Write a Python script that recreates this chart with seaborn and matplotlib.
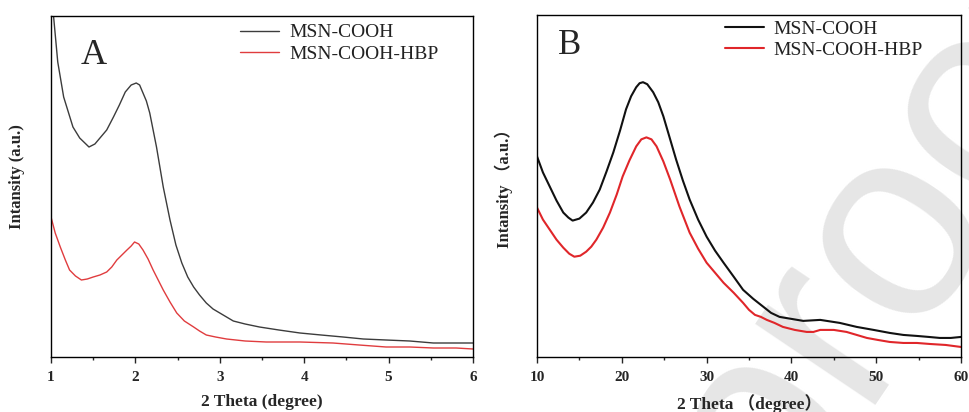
import numpy as np
import pandas as pd
import matplotlib
matplotlib.use("Agg")
import matplotlib.pyplot as plt
import seaborn as sns
from matplotlib.ticker import MultipleLocator

sns.set_style("white")
plt.rcParams['font.family'] = ['Liberation Serif', 'Noto Sans CJK SC', 'DejaVu Sans']

# ---- Panel A data (small angle) ----
a_x_black = [1.0, 1.03, 1.08, 1.15, 1.26, 1.34, 1.45, 1.52, 1.58, 1.66, 1.74, 1.81, 1.88, 1.95,
             2.01, 2.05, 2.09, 2.13, 2.17, 2.25, 2.33, 2.41, 2.48, 2.55, 2.62, 2.69, 2.76,
             2.84, 2.92, 3.0, 3.16, 3.3, 3.47, 3.7, 3.95, 4.2, 4.46, 4.7, 4.97, 5.25, 5.53, 5.8, 6.0]
a_y_black = [372, 341, 295, 260, 230, 219, 210, 213, 219, 227, 240, 252, 265, 272,
             274, 272, 264, 256, 244, 210, 170, 137, 112, 94, 80, 70, 62,
             54, 48, 44, 36, 33, 30, 27, 24, 22, 20, 18, 17, 16, 14, 14, 14]
a_x_red = [1.0, 1.05, 1.11, 1.17, 1.22, 1.29, 1.36, 1.43, 1.5, 1.58, 1.66, 1.72, 1.78, 1.84,
           1.9, 1.95, 1.99, 2.04, 2.09, 2.15, 2.21, 2.27, 2.33, 2.41, 2.49, 2.58, 2.69,
           2.76, 2.84, 2.95, 3.08, 3.3, 3.55, 3.95, 4.34, 4.65, 4.97, 5.25, 5.53, 5.8, 6.0]
a_y_red = [140, 124, 110, 97, 87, 81, 77, 78, 80, 82, 85, 90, 97, 102,
           107, 111, 115, 113, 107, 98, 87, 77, 67, 55, 44, 36, 30,
           26, 22, 20, 18, 16, 15, 15, 14, 12, 10, 10, 9, 9, 8]

# ---- Panel B data (wide angle) ----
b_x_black = [10, 10.7, 11.5, 12.3, 13.1, 13.7, 14.2, 15.0, 15.8, 16.6, 17.4, 18.2, 19, 19.8,
             20.5, 21.1, 21.7, 22.1, 22.5, 23.0, 23.7, 24.3, 24.9, 25.6, 26.4, 27.2, 28,
             29, 30, 31, 32, 33.2, 34.3, 35.5, 36.7, 37.6, 38.6, 40, 41.4, 43.4, 45.7,
             47.7, 49.7, 51.6, 53.2, 54.8, 56.2, 57.5, 58.8, 60]
b_y_black = [200, 184, 170, 156, 144, 139, 136, 138, 144, 154, 167, 185, 204, 226,
             247, 260, 269, 273, 274, 272, 264, 254, 240, 220, 197, 176, 157,
             137, 120, 106, 94, 80, 67, 58, 50, 44, 40, 38, 36, 37, 34,
             30, 27, 24, 22, 21, 20, 19, 19, 20]
b_x_red = [10, 10.7, 11.5, 12.3, 13.1, 13.8, 14.4, 15.1, 15.8, 16.4, 17, 17.8, 18.6, 19.4,
           20.1, 20.9, 21.7, 22.3, 22.9, 23.5, 24.1, 24.9, 25.7, 26.8, 28, 29, 30,
           31, 32, 33.2, 34.3, 35.0, 35.7, 36.4, 37.1, 38, 39, 40.4, 41.8, 42.6, 43.4,
           45, 46.5, 47.7, 48.9, 50.2, 51.6, 53.2, 54.8, 56.3, 58.2, 60]
b_y_red = [149, 137, 127, 117, 109, 103, 100, 101, 105, 110, 117, 129, 144, 162,
           180, 196, 210, 217, 219, 217, 210, 195, 177, 150, 124, 108, 94,
           84, 74, 64, 54, 47, 42, 40, 37, 34, 30, 27, 25, 25, 27,
           27, 25, 22, 19, 17, 15, 14, 14, 13, 12, 10]

labels = ["MSN-COOH", "MSN-COOH-HBP"]

dfA = pd.concat([
    pd.DataFrame({"x": a_x_black, "y": a_y_black, "s": labels[0]}),
    pd.DataFrame({"x": a_x_red, "y": a_y_red, "s": labels[1]}),
])
dfB = pd.concat([
    pd.DataFrame({"x": b_x_black, "y": b_y_black, "s": labels[0]}),
    pd.DataFrame({"x": b_x_red, "y": b_y_red, "s": labels[1]}),
])

fig = plt.figure(figsize=(9.7, 4.12), dpi=100)
W, H = 970, 412
axA = fig.add_axes([51 / W, 1 - 357 / H, (473 - 51) / W, (357 - 16) / H])
axB = fig.add_axes([537 / W, 1 - 357 / H, (961 - 537) / W, (357 - 15) / H])
axA.set_zorder(1)
axB.set_zorder(1)

# watermark (behind the axes), anchored at the start of its baseline
fig.text(0.797, -0.29, "proof", fontsize=197, color="#e6e6e6", rotation=56,
         rotation_mode="anchor", ha="left", va="baseline",
         family="Liberation Sans", zorder=0)

sns.lineplot(data=dfA, x="x", y="y", hue="s", palette=["#3c3c3c", "#e03c3e"],
             ax=axA, lw=1.0, sort=False, estimator=None)
sns.lineplot(data=dfB, x="x", y="y", hue="s", palette=["#111111", "#e0262a"],
             ax=axB, lw=1.5, sort=False, estimator=None)

for ax, xlim, maj, mnr, lab, lx, ly in [
    (axA, (1, 6), 1, 0.5, "2 Theta (degree)", 0.449, 0.977),
    (axB, (10, 60), 10, 5, "2 Theta （degree）", 0.444, 0.985),
]:
    ax.set_xlim(*xlim)
    ax.set_ylim(0, 341)
    ax.xaxis.set_major_locator(MultipleLocator(maj))
    ax.xaxis.set_minor_locator(MultipleLocator(mnr))
    ax.set_yticks([])
    ax.tick_params(axis="x", which="major", direction="out", length=4, width=1,
                   bottom=True, labelsize=11, pad=6)
    ax.tick_params(axis="x", which="minor", direction="out", length=2.5, width=1, bottom=True)
    for lbl in ax.get_xticklabels():
        lbl.set_fontweight("bold")
    for sp in ax.spines.values():
        sp.set_color("black")
        sp.set_linewidth(1.0)
    ax.set_xlabel(lab, fontsize=12.5, fontweight="bold", labelpad=7)
    ax.patch.set_alpha(0)
    leg = ax.legend(loc="upper left", bbox_to_anchor=(lx, ly), frameon=False,
                    fontsize=14, handlelength=2.0, labelspacing=0.2, handletextpad=0.5,
                    borderaxespad=0, borderpad=0)
    for t in leg.get_texts():
        t.set_color("#222222")

axA.set_ylabel("Intansity (a.u.)", fontsize=12, fontweight="bold")
axB.set_ylabel("Intansity （a.u.）", fontsize=12, fontweight="bold")
axA.yaxis.set_label_coords(-0.0616, 0.528)
axB.yaxis.set_label_coords(-0.0566, 0.503)

axA.text(0.07, 0.885, "A", transform=axA.transAxes, fontsize=26, ha="left", va="center")
axB.text(0.05, 0.91, "B", transform=axB.transAxes, fontsize=25, ha="left", va="center")

fig.savefig("out.png", dpi=100)
